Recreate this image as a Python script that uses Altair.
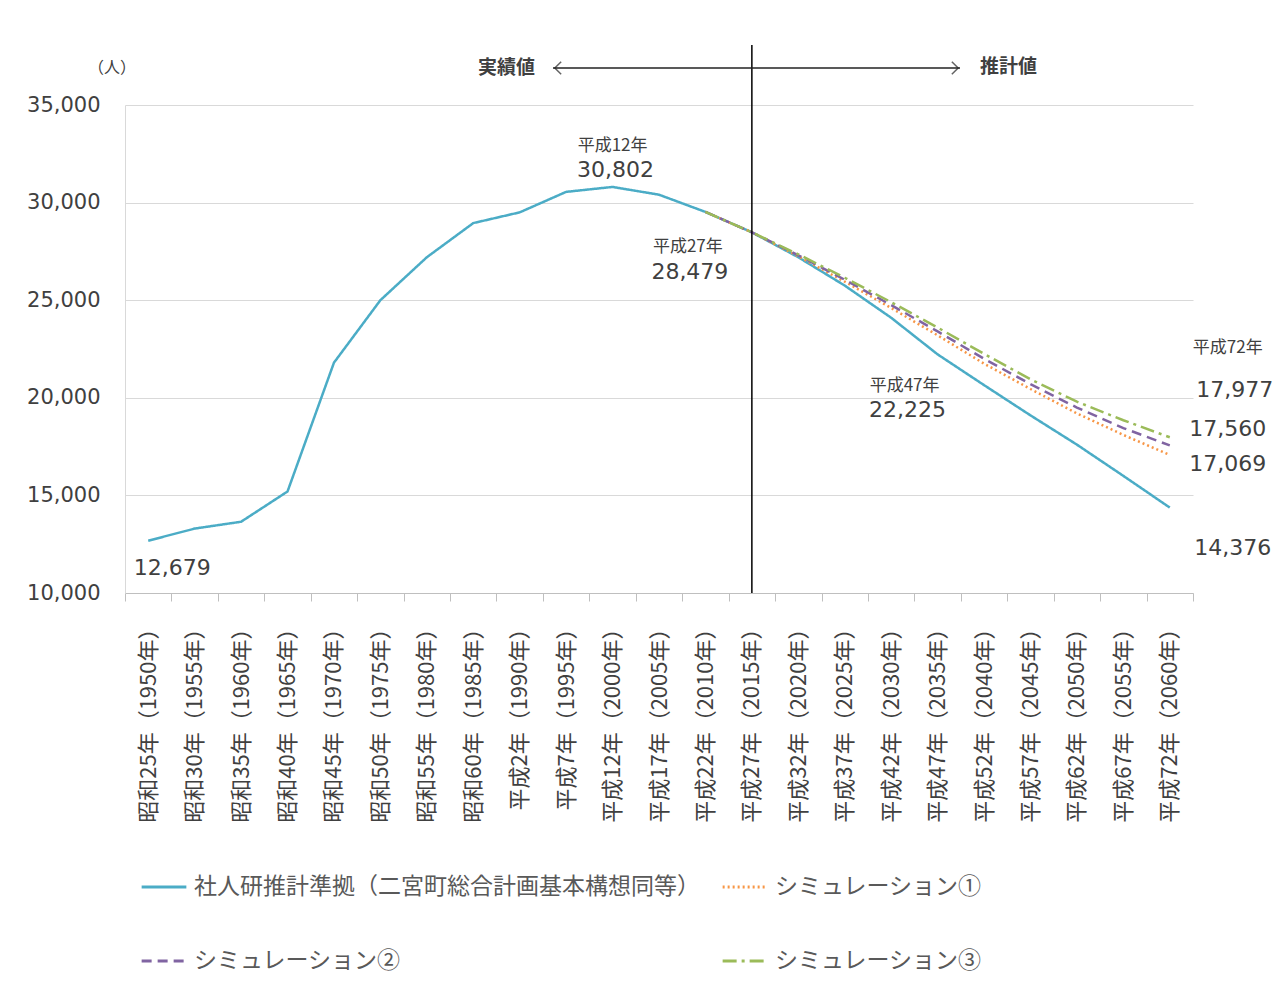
import altair as alt
import pandas as pd

# ---------------- data ----------------
categories = [
    "昭和25年（1950年）", "昭和30年（1955年）", "昭和35年（1960年）", "昭和40年（1965年）",
    "昭和45年（1970年）", "昭和50年（1975年）", "昭和55年（1980年）", "昭和60年（1985年）",
    "平成2年（1990年）", "平成7年（1995年）", "平成12年（2000年）", "平成17年（2005年）",
    "平成22年（2010年）", "平成27年（2015年）", "平成32年（2020年）", "平成37年（2025年）",
    "平成42年（2030年）", "平成47年（2035年）", "平成52年（2040年）", "平成57年（2045年）",
    "平成62年（2050年）", "平成67年（2055年）", "平成72年（2060年）",
]
series_names = [
    "社人研推計準拠（二宮町総合計画基本構想同等）",
    "シミュレーション①",
    "シミュレーション②",
    "シミュレーション③",
]
main_values = [12679, 13300, 13650, 15200, 21800, 25000, 27200, 28950, 29500, 30550,
               30802, 30405, 29522, 28479, 27200, 25750, 24100, 22225, 20650, 19100,
               17600, 16000, 14376]
# simulations start at 平成22年 (index 12)
sim_start = 12
sim1_values = [29522, 28479, 27250, 25950, 24600, 23200, 21750, 20450, 19200, 18100, 17069]
sim2_values = [29522, 28479, 27300, 26050, 24750, 23400, 22000, 20700, 19500, 18450, 17560]
sim3_values = [29522, 28479, 27350, 26150, 24900, 23600, 22250, 20950, 19800, 18850, 17977]

colors = ["#4BACC6", "#F79646", "#8064A2", "#9BBB59"]
dashes = [[1, 0], [2, 3], [10, 6], [14, 5, 3, 5]]

rows = []
for c, v in zip(categories, main_values):
    rows.append({"cat": c, "value": v, "series": series_names[0]})
for name, vals in zip(series_names[1:], [sim1_values, sim2_values, sim3_values]):
    for c, v in zip(categories[sim_start:], vals):
        rows.append({"cat": c, "value": v, "series": name})
df = pd.DataFrame(rows)

TXT = "#404040"
JP = "Noto Sans CJK JP"
NUM = "DejaVu Sans"

x_scale = alt.Scale(type="band", domain=categories, paddingInner=0, paddingOuter=0)
x_axis = alt.Axis(
    title=None, labelAngle=270, labelFont=JP, labelFontSize=22, labelColor=TXT,
    labelPadding=16, tickSize=8, tickColor="#BFBFBF", domainColor="#BFBFBF",
    tickBand="extent", grid=False, labelOverlap=False, labelLimit=400,
)
y_scale = alt.Scale(domain=[10000, 35000], nice=False, zero=False)
y_axis = alt.Axis(
    title=None, values=[10000, 15000, 20000, 25000, 30000, 35000], format=",d",
    labelFont=NUM, labelFontSize=21, labelColor=TXT, labelPadding=25, ticks=False,
    grid=True, gridColor="#D9D9D9", domainColor="#D9D9D9",
)


def X():
    return alt.X("cat:N", scale=x_scale, axis=x_axis, bandPosition=0.5, sort=categories)


def Y():
    return alt.Y("value:Q", scale=y_scale, axis=y_axis)


legend = alt.Legend(
    title=None, orient="none", legendX=15, legendY=758, columns=2, direction="horizontal",
    symbolType="stroke", symbolSize=2000, symbolStrokeWidth=3, labelFont=JP,
    labelFontSize=23, labelColor="#595959", labelLimit=700, columnPadding=16,
    rowPadding=38, labelOffset=6,
)

lines = alt.Chart(df).mark_line(strokeWidth=2.5).encode(
    x=X(), y=Y(),
    color=alt.Color("series:N", scale=alt.Scale(domain=series_names, range=colors),
                    legend=legend, sort=series_names),
    strokeDash=alt.StrokeDash("series:N", scale=alt.Scale(domain=series_names, range=dashes),
                              legend=legend, sort=series_names),
)

one = pd.DataFrame({"cat": [categories[13]], "value": [main_values[13]]})
vline = alt.Chart(one).mark_rule(color="black", strokeWidth=1.5).encode(
    x=X(), y=alt.value(-60), y2=alt.value(488)
)

blank = pd.DataFrame({"a": [0]})
arrow = alt.Chart(blank).mark_rule(color="#222222", strokeWidth=1.5).encode(
    x=alt.value(428), x2=alt.value(835), y=alt.value(-37)
)
head_l = alt.Chart(blank).mark_point(
    shape="M 0.5 -1 L -0.5 0 L 0.5 1", filled=False, color="#222222", size=160, strokeWidth=1.5
).encode(x=alt.value(433), y=alt.value(-37))
head_r = alt.Chart(blank).mark_point(
    shape="M -0.5 -1 L 0.5 0 L -0.5 1", filled=False, color="#222222", size=160, strokeWidth=1.5
).encode(x=alt.value(830), y=alt.value(-37))


def free_text(txt, x, y, size, align="center", weight="normal"):
    return alt.Chart(blank).mark_text(
        text=txt, font=JP, fontSize=size, color=TXT, align=align, baseline="middle",
        fontWeight=weight,
    ).encode(x=alt.value(x), y=alt.value(y))


t_jisseki = free_text("実績値", 410, -37, 19, align="right", weight="bold")
t_suikei = free_text("推計値", 855, -38, 19, align="left", weight="bold")
t_unit = free_text("（人）", -13, -37, 16)


def ann(idx, val, txt, dx, dy, size, font):
    d = pd.DataFrame({"cat": [categories[idx]], "value": [val], "label": [txt]})
    return alt.Chart(d).mark_text(
        dx=dx, dy=dy, fontSize=size, font=font, color=TXT, align="center", baseline="middle"
    ).encode(x=X(), y=Y(), text="label:N")


def fmt(v):
    return f"{v:,}"


anns = [
    ann(0, main_values[0], fmt(main_values[0]), 24, 27, 22, NUM),
    ann(10, main_values[10], "平成12年", 0, -41, 17, JP),
    ann(10, main_values[10], fmt(main_values[10]), 3, -17, 22, NUM),
    ann(13, main_values[13], "平成27年", -64, 15, 17, JP),
    ann(13, main_values[13], fmt(main_values[13]), -62, 40, 22, NUM),
    ann(17, main_values[17], "平成47年", -33, 32, 17, JP),
    ann(17, main_values[17], fmt(main_values[17]), -30, 56, 22, NUM),
    ann(22, sim3_values[-1], "平成72年", 58, -89, 17, JP),
    ann(22, sim3_values[-1], fmt(sim3_values[-1]), 65, -47, 22, NUM),
    ann(22, sim2_values[-1], fmt(sim2_values[-1]), 58, -16, 22, NUM),
    ann(22, sim1_values[-1], fmt(sim1_values[-1]), 58, 9, 22, NUM),
    ann(22, main_values[-1], fmt(main_values[-1]), 63, 40, 22, NUM),
]

chart = alt.layer(lines, vline, arrow, head_l, head_r, t_jisseki, t_suikei, t_unit, *anns).properties(
    width=1068, height=488,
    autosize=alt.AutoSizeParams(type="none"),
    padding={"left": 125, "top": 105, "right": 83, "bottom": 395},
    background="white",
).configure_view(stroke=None)

chart.save("out.html", embed_options={"renderer": "svg", "actions": False})
